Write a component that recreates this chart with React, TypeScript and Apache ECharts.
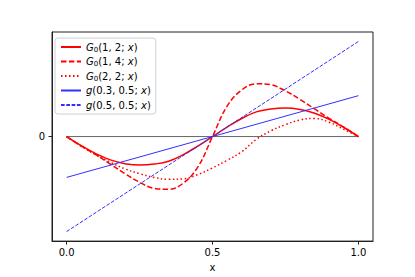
import React, { useEffect, useRef } from "react";
import * as echarts from "echarts";

const xs = [0, 0.05, 0.1, 0.15, 0.2, 0.25, 0.3, 0.35, 0.4, 0.45, 0.5, 0.55, 0.6, 0.65, 0.7, 0.75, 0.8, 0.85, 0.9, 0.95, 1.0];
const g012 = [0, -0.095, -0.18, -0.245, -0.285, -0.3, -0.29, -0.26, -0.19, -0.1, 0, 0.1, 0.19, 0.26, 0.29, 0.3, 0.285, 0.245, 0.18, 0.095, 0];
const g014 = [0, -0.1, -0.19, -0.29, -0.39, -0.48, -0.545, -0.555, -0.49, -0.32, 0, 0.32, 0.49, 0.555, 0.545, 0.48, 0.39, 0.29, 0.19, 0.1, 0];
const g022 = [0, -0.1, -0.19, -0.27, -0.34, -0.39, -0.43, -0.45, -0.445, -0.4, -0.33, -0.25, -0.16, -0.03, 0.06, 0.125, 0.175, 0.19, 0.15, 0.075, 0];
const lineXs = [0, 1];
const gA = [-0.43, 0.43];
const gB = [-1, 1];
const zeroLine = [0, 0];
const xTicks = [0, 0.5, 1.0];
const yTicks = [0];

const names = ["G012", "G014", "G022", "gA", "gB"];
const labels: Record<string, string> = {
  G012: "{i|G}{s|0}{n|(1, 2; }{i|x}{n|)}",
  G014: "{i|G}{s|0}{n|(1, 4; }{i|x}{n|)}",
  G022: "{i|G}{s|0}{n|(2, 2; }{i|x}{n|)}",
  gA: "{i|g}{n|(0.3, 0.5; }{i|x}{n|)}",
  gB: "{i|g}{n|(0.5, 0.5; }{i|x}{n|)}",
};

const pairs = (x: number[], y: number[]) => x.map((v, i) => [v, y[i]]);

export default function App() {
  const ref = useRef<HTMLDivElement>(null);
  useEffect(() => {
    if (!ref.current) return;
    const chart = echarts.init(ref.current, undefined, { renderer: "svg" });
    const font = "DejaVu Sans";
    const red = "#ff0000";
    const blue = "#3030ff";
    chart.setOption({
      animation: false,
      backgroundColor: "#ffffff",
      grid: {
        left: 52,
        right: 42,
        top: 32,
        bottom: 35,
        show: true,
        borderColor: "#222",
        borderWidth: 1,
        backgroundColor: "transparent",
      },
      xAxis: {
        type: "value",
        min: -0.05,
        max: 1.05,
        name: "x",
        nameLocation: "middle",
        nameGap: 15,
        nameTextStyle: { fontFamily: font, fontSize: 10, color: "#000" },
        axisLine: { show: true, onZero: false, lineStyle: { color: "#222", width: 1 } },
        axisTick: { show: true, inside: false, length: 3.5, customValues: xTicks, lineStyle: { color: "#222" } },
        axisLabel: {
          customValues: xTicks,
          margin: 6,
          fontFamily: font,
          fontSize: 10,
          color: "#000",
          formatter: (v: number) => v.toFixed(1),
        },
        splitLine: { show: false },
      },
      yAxis: {
        type: "value",
        min: -1.1,
        max: 1.1,
        axisLine: { show: true, onZero: false, lineStyle: { color: "#222", width: 1 } },
        axisTick: { show: true, inside: false, length: 3.5, customValues: yTicks, lineStyle: { color: "#222" } },
        axisLabel: {
          customValues: yTicks,
          margin: 7,
          fontFamily: font,
          fontSize: 10,
          color: "#000",
          formatter: (v: number) => String(Math.round(v)),
        },
        splitLine: { show: false },
      },
      legend: {
        data: names,
        orient: "vertical",
        left: 55,
        top: 38,
        itemWidth: 20,
        itemHeight: 8,
        itemGap: 2.5,
        padding: [3, 5, 3, 5],
        borderColor: "#d0d0d0",
        borderWidth: 1,
        borderRadius: 3,
        backgroundColor: "rgba(255,255,255,0.8)",
        itemStyle: { opacity: 0, borderWidth: 0 },
        formatter: (name: string) => labels[name],
        textStyle: {
          fontFamily: font,
          fontSize: 10,
          color: "#000",
          lineHeight: 12,
          rich: {
            i: { fontFamily: font, fontSize: 10, fontStyle: "italic", color: "#000", lineHeight: 12 },
            n: { fontFamily: font, fontSize: 10, color: "#000", lineHeight: 12 },
            s: { fontFamily: font, fontSize: 7, color: "#000", lineHeight: 8, verticalAlign: "bottom" },
          },
        },
      },
      series: [
        {
          type: "line",
          data: pairs(lineXs, zeroLine),
          symbol: "none",
          silent: true,
          lineStyle: { color: "#666", width: 1 },
          z: 1,
        },
        {
          name: "G012",
          type: "line",
          data: pairs(xs, g012),
          symbol: "none",
          smooth: 0.4,
          color: red,
          lineStyle: { color: red, width: 1.5 },
          z: 2,
        },
        {
          name: "G014",
          type: "line",
          data: pairs(xs, g014),
          symbol: "none",
          smooth: 0.4,
          color: red,
          lineStyle: { color: red, width: 1.5, type: [5.5, 2.4] },
          z: 2,
        },
        {
          name: "G022",
          type: "line",
          data: pairs(xs, g022),
          symbol: "none",
          smooth: 0.4,
          color: red,
          lineStyle: { color: red, width: 1.5, type: [1.5, 2.5] },
          z: 2,
        },
        {
          name: "gA",
          type: "line",
          data: pairs(lineXs, gA),
          symbol: "none",
          color: blue,
          lineStyle: { color: blue, width: 1 },
          z: 3,
        },
        {
          name: "gB",
          type: "line",
          data: pairs(lineXs, gB),
          symbol: "none",
          color: blue,
          lineStyle: { color: blue, width: 1, type: [3.7, 1.6] },
          z: 3,
        },
      ],
    });
    return () => chart.dispose();
  }, []);
  return <div ref={ref} style={{ width: 415, height: 277, position: "absolute", left: 0, top: 0 }} />;
}
